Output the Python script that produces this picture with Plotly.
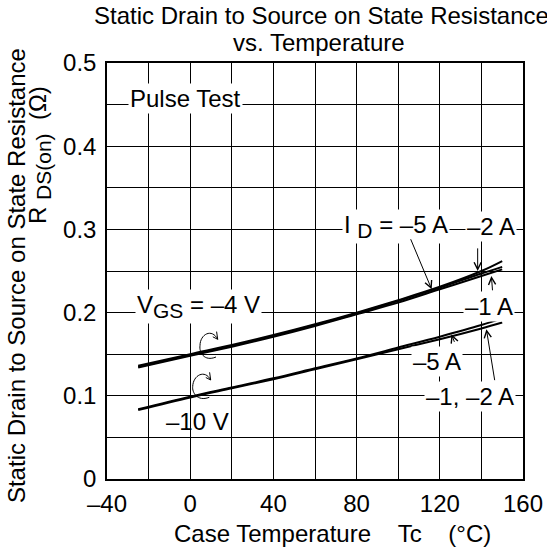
import plotly.graph_objects as go

# ---- data ----
temps = [-25, 0, 20, 40, 60, 80, 100, 120, 140, 150]

vgs4_id2 = [0.136, 0.150, 0.161, 0.173, 0.186, 0.200, 0.215, 0.231, 0.250, 0.262]
vgs4_id5 = [0.135, 0.149, 0.160, 0.172, 0.185, 0.199, 0.214, 0.230, 0.247, 0.255]
vgs4_id1 = [0.134, 0.148, 0.159, 0.171, 0.184, 0.198, 0.212, 0.228, 0.244, 0.252]

vgs10_id5 = [0.084, 0.099, 0.110, 0.121, 0.133, 0.145, 0.158, 0.171, 0.185, 0.193]
vgs10_id12 = [0.083, 0.098, 0.109, 0.120, 0.132, 0.144, 0.156, 0.168, 0.181, 0.188]

x_tickvals = [-40, 0, 40, 80, 120, 160]
x_ticktext = ["\u201340", "0", "40", "80", "120", "160"]
y_tickvals = [0, 0.1, 0.2, 0.3, 0.4, 0.5]
y_ticktext = ["0", "0.1", "0.2", "0.3", "0.4", "0.5"]

FONT = "Liberation Sans, Arial, sans-serif"
FS = 24

W, H = 547, 557
# plot area in window pixels
L, R_, T_, B_ = 107, 523, 63, 479


def px2d(px, py):
    return (-40 + (px - L) * 200.0 / (R_ - L), (B_ - py) * 0.5 / (B_ - T_))


def sub(s):
    return "<sub><span style='font-size:21px'>" + s + "</span></sub>"


fig = go.Figure()
series = [
    ("VGS=-4V, ID=-2A", vgs4_id2),
    ("VGS=-4V, ID=-5A", vgs4_id5),
    ("VGS=-4V, ID=-1A", vgs4_id1),
    ("VGS=-10V, ID=-5A", vgs10_id5),
    ("VGS=-10V, ID=-1,-2A", vgs10_id12),
]
for name, ys in series:
    fig.add_trace(go.Scatter(x=temps, y=ys, mode="lines", name=name,
                             line=dict(color="black", width=2, shape="spline"),
                             showlegend=False))

ann = []


def label(x, y, text, **kw):
    d = dict(x=x, y=y, xref="x", yref="y", text=text, showarrow=False,
             font=dict(family=FONT, size=FS, color="black"),
             bgcolor="white", borderpad=1, xanchor="center", yanchor="middle")
    d.update(kw)
    ann.append(d)


label(-2.5, 0.457, "Pulse Test")
label(99, 0.303, "I " + sub("D") + " = \u20135 A")
label(144.6, 0.303, "\u20132 A")
label(3.8, 0.207, "V" + sub("GS") + " = \u20134 V")
label(143.7, 0.207, "\u20131 A")
label(118.7, 0.141, "\u20135 A")
label(134.5, 0.099, "\u20131, \u20132 A")
label(3.3, 0.069, "\u201310 V", bgcolor="rgba(0,0,0,0)")


def arrow(tail, head):
    ann.append(dict(x=head[0], y=head[1], ax=tail[0], ay=tail[1],
                    xref="x", yref="y", axref="x", ayref="y", text="",
                    showarrow=True, arrowhead=5, arrowsize=1.4, arrowwidth=1,
                    arrowcolor="black"))


arrow((105.7, 0.290), (116.1, 0.228))
arrow((138.2, 0.279), (138.2, 0.250))
arrow((145.4, 0.225), (144.8, 0.244))
arrow((127.3, 0.163), (125.6, 0.174))
arrow((146.5, 0.117), (142.4, 0.180))

# axis titles & chart title (annotations)
paper = dict(xref="paper", yref="paper", showarrow=False,
             font=dict(family=FONT, size=FS, color="black"),
             xanchor="center", yanchor="middle")
ann.append(dict(paper, x=0.516, y=1.1134, text="Static Drain to Source on State Resistance"))
ann.append(dict(paper, x=0.510, y=1.050, text="vs. Temperature"))
ann.append(dict(paper, x=0.541, y=-0.130,
                text="Case Temperature\u00a0\u00a0\u00a0\u00a0Tc\u00a0\u00a0\u00a0\u00a0(\u00b0C)"))
ann.append(dict(paper, x=-0.219, y=0.490, textangle=-90,
                text="Static Drain to Source on State Resistance"))
ann.append(dict(paper, x=-0.161, y=0.779, textangle=-90,
                text="R " + sub("DS(on)") + "\u00a0\u00a0(\u03a9)"))

# curled rotation arrows near VGS labels (drawn in pixel space, converted)
def curl(pts_px):
    p = [px2d(*q) for q in pts_px]
    s = "M{},{} C{},{} {},{} {},{} C{},{} {},{} {},{}".format(
        *p[0], *p[1], *p[2], *p[3], *p[4], *p[5], *p[6])
    s += " M{},{} L{},{} L{},{}".format(*p[7], *p[6], *p[8])
    return s


curl_up = [(216, 357), (204, 362), (199, 352), (200, 345.7),
           (200, 334), (212, 328), (217.7, 339.3), (212.8, 336.8), (216.6, 331.6)]
curl_lo = [(209.3, 397.3), (197, 402), (192, 392), (192.7, 386.7),
           (193, 375), (205, 369), (210.7, 380), (205.8, 377.5), (209.6, 372.3)]
shapes = []
for c in (curl_up, curl_lo):
    shapes.append(dict(type="path", xref="x", yref="y", path=curl(c),
                       line=dict(color="black", width=1)))

axis_common = dict(showline=True, linecolor="black", linewidth=1.5, mirror=True,
                   showgrid=True, gridcolor="black", gridwidth=1, zeroline=False,
                   automargin=False, ticklabeloverflow="allow",
                   ticks="", tickfont=dict(family=FONT, size=FS, color="black"))

fig.update_layout(
    width=W, height=H,
    margin=dict(l=L, r=W - R_, t=T_, b=H - B_, autoexpand=False),
    paper_bgcolor="white", plot_bgcolor="white",
    xaxis=dict(axis_common, range=[-40, 160], tickvals=x_tickvals, ticktext=x_ticktext,
               ticklabelstandoff=2,
               minor=dict(dtick=20, tick0=-40, showgrid=True, gridcolor="black", gridwidth=1)),
    yaxis=dict(axis_common, range=[0, 0.5], tickvals=y_tickvals, ticktext=y_ticktext,
               ticklabelstandoff=4,
               minor=dict(dtick=0.05, tick0=0, showgrid=True, gridcolor="black", gridwidth=1)),
    annotations=ann, shapes=shapes,
)

fig.write_html("out.html", config={"displayModeBar": False},
               post_script="document.body.style.margin='0';document.body.style.overflow='hidden';")
